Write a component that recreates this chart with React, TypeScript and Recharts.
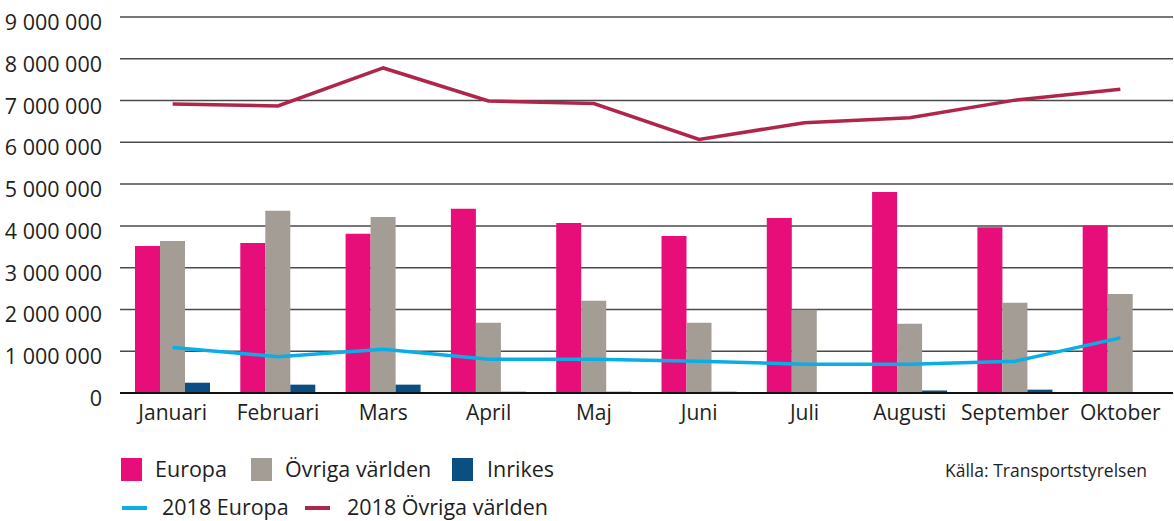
import React from 'react';
import {
  ComposedChart,
  Bar,
  Line,
  XAxis,
  YAxis,
  CartesianGrid,
} from 'recharts';

const months = ['Januari', 'Februari', 'Mars', 'April', 'Maj', 'Juni', 'Juli', 'Augusti', 'September', 'Oktober'];
const europa = [3520000, 3590000, 3810000, 4410000, 4070000, 3760000, 4190000, 4810000, 3970000, 4010000];
const ovriga = [3640000, 4360000, 4210000, 1680000, 2210000, 1680000, 1990000, 1660000, 2160000, 2370000];
const inrikes = [246000, 200000, 200000, 30000, 30000, 30000, 20000, 60000, 80000, 5000];
const europa2018 = [1090000, 870000, 1050000, 810000, 810000, 760000, 690000, 690000, 760000, 1320000];
const ovriga2018 = [6920000, 6870000, 7780000, 6990000, 6930000, 6070000, 6470000, 6590000, 7010000, 7270000];
const yTicks = [0, 1000000, 2000000, 3000000, 4000000, 5000000, 6000000, 7000000, 8000000, 9000000];

const COLORS = {
  europa: '#e80e7a',
  ovriga: '#a39d96',
  inrikes: '#0b4f82',
  europa2018: '#0aaee6',
  ovriga2018: '#b0264a',
};

const data = months.map((m, i) => ({
  month: m,
  europa: europa[i],
  ovriga: ovriga[i],
  inrikes: inrikes[i],
  europa2018: europa2018[i],
  ovriga2018: ovriga2018[i],
}));

const FONT = '"Open Sans", sans-serif';

const fmt = (v: number) => (v === 0 ? '0' : v.toLocaleString('en-US').replace(/,/g, ' '));

const YTick = ({ x, y, payload }: any) => (
  <text x={x} y={y} dy={13} textAnchor="end" fontSize={21.5} fill="#1e1e1e" fontFamily={FONT}>
    {fmt(payload.value)}
  </text>
);

const XTick = ({ x, y, payload }: any) => (
  <text x={x} y={y} dy={19} textAnchor="middle" fontSize={21} fill="#1e1e1e" fontFamily={FONT}>
    {payload.value}
  </text>
);

const legendText: React.CSSProperties = {
  position: 'absolute',
  fontSize: 21.5,
  color: '#1e1e1e',
  fontFamily: FONT,
  lineHeight: '24px',
  whiteSpace: 'nowrap',
};

export default function App() {
  return (
    <div style={{ position: 'absolute', left: 0, top: 0, width: 1174, height: 521, background: '#fff' }}>
      <ComposedChart
        width={1174}
        height={440}
        data={data}
        margin={{ top: 17, right: 1, bottom: 6, left: 0 }}
        barCategoryGap={15}
        barGap={0}
      >
        <CartesianGrid vertical={false} stroke="#4a4a4a" strokeWidth={1.5} />
        <XAxis
          dataKey="month"
          tick={<XTick />}
          tickLine={false}
          axisLine={{ stroke: '#111', strokeWidth: 2 }}
          height={41}
          interval={0}
        />
        <YAxis
          domain={[0, 9000000]}
          ticks={yTicks}
          tick={<YTick />}
          tickLine={false}
          axisLine={false}
          tickMargin={12}
          width={120}
        />
        <Bar dataKey="europa" fill={COLORS.europa} isAnimationActive={false} />
        <Bar dataKey="ovriga" fill={COLORS.ovriga} isAnimationActive={false} />
        <Bar dataKey="inrikes" fill={COLORS.inrikes} isAnimationActive={false} />
        <Line
          type="linear"
          dataKey="europa2018"
          stroke={COLORS.europa2018}
          strokeWidth={3.5}
          dot={false}
          activeDot={false}
          isAnimationActive={false}
        />
        <Line
          type="linear"
          dataKey="ovriga2018"
          stroke={COLORS.ovriga2018}
          strokeWidth={3.5}
          dot={false}
          activeDot={false}
          isAnimationActive={false}
        />
      </ComposedChart>

      {/* Legend row 1 */}
      <div style={{ position: 'absolute', left: 121, top: 458, width: 21, height: 23, background: COLORS.europa }} />
      <div style={{ ...legendText, left: 155, top: 457 }}>Europa</div>
      <div style={{ position: 'absolute', left: 251, top: 458, width: 21, height: 23, background: COLORS.ovriga }} />
      <div style={{ ...legendText, left: 285, top: 457 }}>Övriga världen</div>
      <div style={{ position: 'absolute', left: 452, top: 458, width: 21, height: 23, background: COLORS.inrikes }} />
      <div style={{ ...legendText, left: 487, top: 457 }}>Inrikes</div>
      <div style={{ ...legendText, left: 945, top: 458, fontSize: 17.5 }}>Källa: Transportstyrelsen</div>

      {/* Legend row 2 */}
      <div style={{ position: 'absolute', left: 122, top: 506, width: 25, height: 4, background: COLORS.europa2018 }} />
      <div style={{ ...legendText, left: 162, top: 495 }}>2018 Europa</div>
      <div style={{ position: 'absolute', left: 305, top: 506, width: 25, height: 4, background: COLORS.ovriga2018 }} />
      <div style={{ ...legendText, left: 347, top: 495 }}>2018 Övriga världen</div>
    </div>
  );
}
